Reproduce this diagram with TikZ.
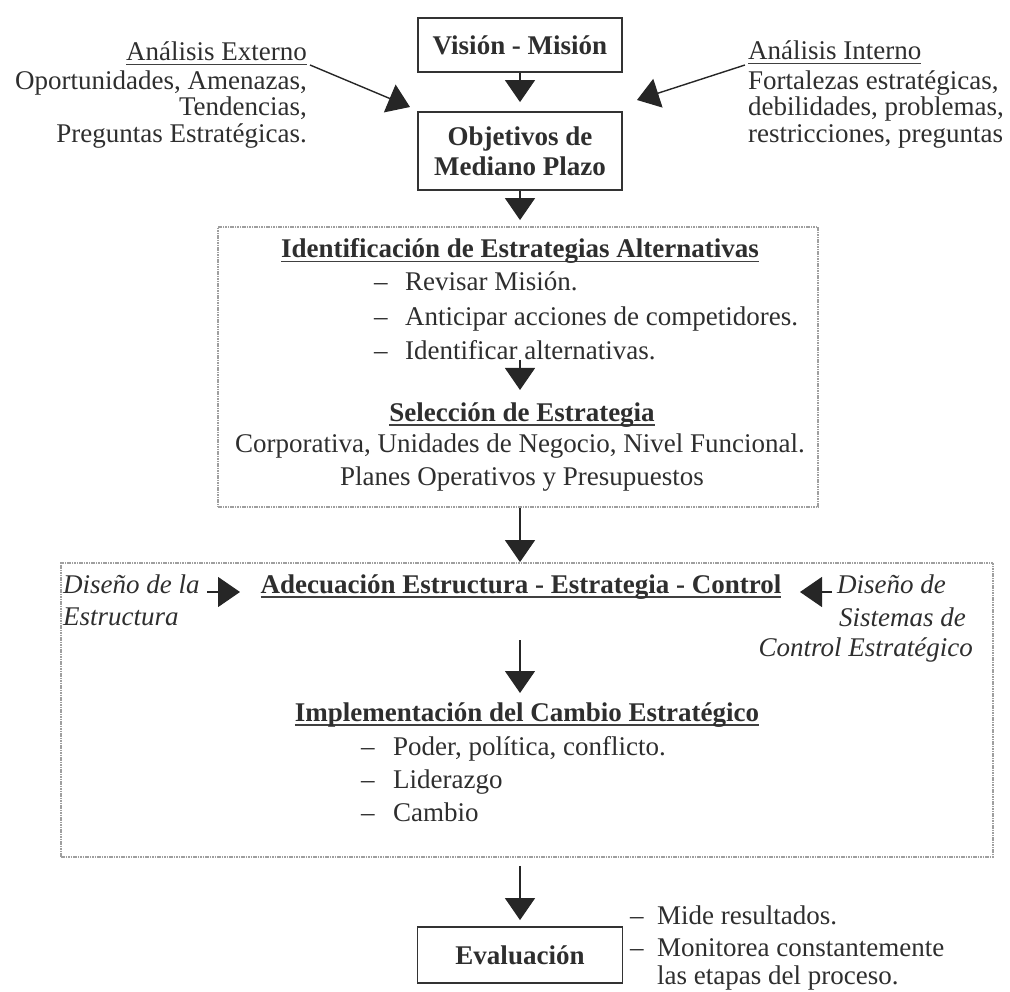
\documentclass[tikz,border=0pt]{standalone}
\usepackage{fontspec}
\setmainfont{Liberation Serif}
\usetikzlibrary{arrows.meta}
\newcommand\uln[1]{\leavevmode\setbox0=\hbox{#1}\rlap{\color{black!75}\rule[-4.5pt]{\wd0}{1.6pt}}\box0}
\begin{document}
\begin{tikzpicture}[x=1pt,y=-1pt,
  txt/.style={inner sep=0pt, text=black!82, font=\fontsize{27}{30}\selectfont},
  btxt/.style={txt, font=\fontsize{27}{30}\selectfont\bfseries},
  itxt/.style={txt, font=\fontsize{27}{30}\selectfont\itshape},
  solidbox/.style={draw=black!80, line width=1.8pt, inner sep=0pt, text=black!82,
    font=\fontsize{27}{30}\selectfont\bfseries, align=center},
  dotbox/.style={draw=gray!75, line width=1.8pt, dash pattern=on 1.6pt off 0.8pt, inner sep=0pt},
  arr/.style={draw=black!85, line width=1.4pt, -{Triangle[width=30pt,length=22pt]}},
]
\useasboundingbox (0,0) rectangle (1010,992);

% main boxes
\node[solidbox, minimum width=204pt, minimum height=54pt] (vision) at (520,45) {Visión - Misión};
\node[solidbox, minimum width=204pt, minimum height=78pt] (objet) at (520,151) {Objetivos de\\Mediano Plazo};
\node[dotbox, minimum width=600pt, minimum height=280pt] (box1) at (518,367) {};
\node[dotbox, minimum width=932pt, minimum height=294pt] (box2) at (527,710) {};
\node[solidbox, minimum width=205pt, minimum height=56pt] (eval) at (520,955) {Evaluación};

% external analysis
\node[txt, anchor=base east] (ext0) at (307,61) {\uln{Análisis Externo}};
\node[txt, anchor=base east] (ext1) at (307,90) {Oportunidades, Amenazas,};
\node[txt, anchor=base east] (ext2) at (307,116) {Tendencias,};
\node[txt, anchor=base east] (ext3) at (307,143) {Preguntas Estratégicas.};
% internal analysis
\node[txt, anchor=base west] (int0) at (748,60) {\uln{Análisis Interno}};
\node[txt, anchor=base west] (int1) at (748,90) {Fortalezas estratégicas,};
\node[txt, anchor=base west] (int2) at (748,116) {debilidades, problemas,};
\node[txt, anchor=base west] (int3) at (748,143) {restricciones, preguntas};

% box 1 content
\node[btxt, anchor=base] (idt) at (520,258) {\uln{Identificación de Estrategias Alternativas}};
\node[txt, anchor=base west] (idd1) at (374,291) {–};
\node[txt, anchor=base west] (idl1) at (405,291) {Revisar Misión.};
\node[txt, anchor=base west] (idd2) at (374,326) {–};
\node[txt, anchor=base west] (idl2) at (405,326) {Anticipar acciones de competidores.};
\node[txt, anchor=base west] (idd3) at (374,360) {–};
\node[txt, anchor=base west] (idl3) at (405,360) {Identificar alternativas.};
\node[btxt, anchor=base] (selt) at (522,421) {\uln{Selección de Estrategia}};
\node[txt, anchor=base] (sel1) at (520,453) {Corporativa, Unidades de Negocio, Nivel Funcional.};
\node[txt, anchor=base] (sel2) at (522,485) {Planes Operativos y Presupuestos};

% box 2 content
\node[itxt, anchor=base west] (dl1) at (63,593) {Diseño de la};
\node[itxt, anchor=base west] (dl2) at (63,625) {Estructura};
\node[btxt, anchor=base] (adt) at (521,593) {\uln{Adecuación Estructura - Estrategia - Control}};
\node[itxt, anchor=base west] (dr1) at (837,593) {Diseño de};
\node[itxt, anchor=base east] (dr2) at (966,626) {Sistemas de};
\node[itxt, anchor=base east] (dr3) at (973,656) {Control Estratégico};
\node[btxt, anchor=base] (imt) at (527,721) {\uln{Implementación del Cambio Estratégico}};
\node[txt, anchor=base west] (imd1) at (361,755) {–};
\node[txt, anchor=base west] (iml1) at (393,755) {Poder, política, conflicto.};
\node[txt, anchor=base west] (imd2) at (361,788) {–};
\node[txt, anchor=base west] (iml2) at (393,788) {Liderazgo};
\node[txt, anchor=base west] (imd3) at (361,821) {–};
\node[txt, anchor=base west] (iml3) at (393,821) {Cambio};

% evaluation notes
\node[txt, anchor=base west] (evd1) at (630,924) {–};
\node[txt, anchor=base west] (evl1) at (657,924) {Mide resultados.};
\node[txt, anchor=base west] (evd2) at (630,956) {–};
\node[txt, anchor=base west] (evl2) at (657,956) {Monitorea constantemente};
\node[txt, anchor=base west] (evl3) at (657,984) {las etapas del proceso.};

% connector end points
\coordinate (ea) at (310,65);
\coordinate (eb) at (410,107);
\coordinate (ia) at (745,65);
\coordinate (ib) at (637,100);
\coordinate (s1) at (520,360);
\coordinate (s2) at (520,390);
\coordinate (s3) at (520,640);
\coordinate (s4) at (520,693);
\coordinate (la) at (207,592);
\coordinate (lb) at (240,592);
\coordinate (ra) at (832,592);
\coordinate (rb) at (800,592);

% connectors
\draw[arr, shorten >=9pt] (vision) -- (objet);
\draw[arr, shorten >=6pt] (objet.south) -- (objet.south |- box1.north);
\draw[arr] (objet.south |- box1.south) -- (objet.south |- box2.north);
\draw[arr, shorten <=8pt, shorten >=6pt] (eval.north |- box2.south) -- (eval.north);
\draw[arr] (ea) -- (eb);
\draw[arr] (ia) -- (ib);
\draw[arr] (s1) -- (s2);
\draw[arr] (s3) -- (s4);
\draw[arr] (la) -- (lb);
\draw[arr] (ra) -- (rb);
\end{tikzpicture}
\end{document}
